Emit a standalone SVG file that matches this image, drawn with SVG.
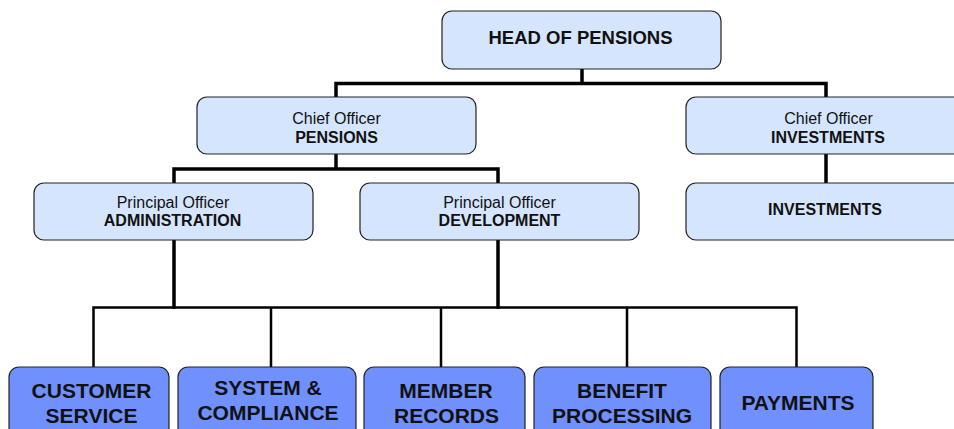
<svg xmlns="http://www.w3.org/2000/svg" width="954" height="429" viewBox="0 0 954 429">
<style>
.lt{fill:#d5e5fd;stroke:#222;stroke-width:1.2}
.dk{fill:#7090fe;stroke:#222;stroke-width:1.2}
.t{font-family:"Liberation Sans",Arial,sans-serif;fill:#111;text-anchor:middle}
.r{font-size:16px}
.b{font-size:16px;font-weight:bold}
.h{font-size:18.5px;font-weight:bold}
.big{font-size:21px;font-weight:bold}
.c{fill:none;stroke:#000;stroke-linecap:square}
</style>
<rect width="954" height="429" fill="#fff"/>
<g id="connectors">
<path class="c" stroke-width="3.5" d="M582,69V83.5M336,83.5H826M336,83.5V97M826,83.5V97"/>
<path class="c" stroke-width="3.5" d="M826,154V183"/>
<path class="c" stroke-width="3.5" d="M336,154V169M174,169H498M174,169V183M498,169V183"/>
<path class="c" stroke-width="3.5" d="M174,240V307M498,240V307"/>
<path class="c" stroke-width="2.5" d="M93.5,307.5H796.5M93.5,307.5V367M271,307.5V367M441,307.5V367M627,307.5V367M796.5,307.5V367"/>
</g>
<g id="head">
<rect class="lt" x="442" y="11" width="279" height="58" rx="10"/>
<text class="t h" x="580.5" y="44">HEAD OF PENSIONS</text>
</g>
<g id="chief-pensions">
<rect class="lt" x="197" y="97" width="279" height="57" rx="10"/>
<text class="t r" x="336.5" y="124">Chief Officer</text>
<text class="t b" x="336.5" y="143">PENSIONS</text>
</g>
<g id="chief-investments">
<rect class="lt" x="686" y="97" width="290" height="57" rx="10"/>
<text class="t r" x="828.5" y="124">Chief Officer</text>
<text class="t b" x="828" y="143">INVESTMENTS</text>
</g>
<g id="investments">
<rect class="lt" x="686" y="183" width="290" height="57" rx="10"/>
<text class="t b" x="825" y="215">INVESTMENTS</text>
</g>
<g id="admin">
<rect class="lt" x="34" y="183" width="279" height="57" rx="10"/>
<text class="t r" x="173" y="208">Principal Officer</text>
<text class="t b" x="172.5" y="226">ADMINISTRATION</text>
</g>
<g id="development">
<rect class="lt" x="360" y="183" width="279" height="57" rx="10"/>
<text class="t r" x="499.5" y="208">Principal Officer</text>
<text class="t b" x="499.5" y="226">DEVELOPMENT</text>
</g>
<g id="customer-service">
<rect class="dk" x="9" y="367" width="160" height="75" rx="10"/>
<text class="t big" x="91.5" y="398">CUSTOMER</text>
<text class="t big" x="91.5" y="423">SERVICE</text>
</g>
<g id="system-compliance">
<rect class="dk" x="178" y="367" width="178" height="75" rx="10"/>
<text class="t big" x="268" y="395">SYSTEM &amp;</text>
<text class="t big" x="268" y="420">COMPLIANCE</text>
</g>
<g id="member-records">
<rect class="dk" x="364" y="367" width="161" height="75" rx="10"/>
<text class="t big" x="446" y="398">MEMBER</text>
<text class="t big" x="446.5" y="423">RECORDS</text>
</g>
<g id="benefit-processing">
<rect class="dk" x="534" y="367" width="177" height="75" rx="10"/>
<text class="t big" x="622" y="398">BENEFIT</text>
<text class="t big" x="622" y="423">PROCESSING</text>
</g>
<g id="payments">
<rect class="dk" x="720" y="367" width="153" height="75" rx="10"/>
<text class="t big" x="798" y="410">PAYMENTS</text>
</g>
</svg>
